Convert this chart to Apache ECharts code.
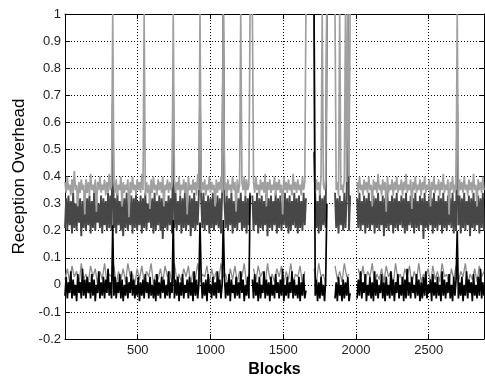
<!DOCTYPE html>
<html>
<head>
<meta charset="utf-8">
<style>
  html, body { margin: 0; padding: 0; background: #fff; }
  #chart { width: 485px; height: 383px; }
</style>
<script src="https://cdn.jsdelivr.net/npm/echarts@6/dist/echarts.min.js"></script>
</head>
<body>
<div id="chart"></div>
<script>
// Block spacing of the sampled series (blocks per sample)
const FINE_STEP = 8;
const COARSE_STEP = 16;

// X tick labels and Y tick range
const xTicks = [500, 1000, 1500, 2000, 2500];
const xMax = 2880;
const yMin = -0.2, yMax = 1, yStep = 0.1;

// Upper trace (light gray), one value every FINE_STEP blocks; null = no data
const lightGray = [
  .38,.34,.40,.35,.37,.33,.39,.34,.42,.35,.37,.29,.38,.34,.39,.35,.37,.26,.39,.34,
  .38,.33,.41,.35,.37,.34,.39,.27,.38,.35,.40,.34,.37,.35,.39,.33,.38,.34,.41,.35,
  .37,1,.38,.34,.39,.33,.37,.35,.40,.29,.38,.34,.37,.35,.39,.25,.38,.34,.40,.35,
  .37,.33,.39,.35,.38,.34,.41,.35,1,.33,.38,.34,.37,.28,.39,.34,.40,.35,.37,.33,
  .39,.35,.38,.34,.40,.29,.37,.35,.39,.34,.38,.35,.37,1,.39,.34,.38,.35,.40,.33,
  .37,.35,.39,.34,.38,.26,.40,.35,.37,.34,.39,.35,.38,.33,.41,.35,1,.34,.38,.35,
  .39,.33,.37,.35,.40,.34,.38,.35,.37,.29,.39,.34,.38,.35,.40,.34,1,.35,.38,.33,
  .39,.35,.37,.34,.40,.35,.38,.27,.39,.34,.37,1,.38,.35,.40,.33,.39,.35,.37,1,
  null,1,.38,.34,.40,.35,.37,.33,.39,.35,.38,.34,.41,.29,.38,.35,.39,.34,.37,.35,
  .40,.33,.38,.35,.39,.34,.37,.26,.40,.35,.38,.34,.39,.35,.37,.33,.41,.35,.38,.34,
  .39,.35,.37,.33,.40,.35,.38,1,null,null,null,null,null,null,1,.34,.39,.35,.38,.33,
  .40,1,.37,.35,.39,1,null,null,null,null,null,null,1,.35,.38,.33,1,.35,.37,.34,
  .39,1,.38,1,.40,1,null,null,null,null,null,.38,.34,.40,.35,.37,.33,.39,.35,.38,
  .34,.40,.35,.37,.29,.39,.35,.38,.34,.41,.35,.37,.33,.39,.35,.38,.27,.40,.34,.37,
  .35,.39,.33,.38,.35,.40,.34,.37,.35,.39,.33,.38,.35,.41,.34,.37,.35,.39,.28,.38,
  .35,.40,.34,.37,.35,.39,.33,.38,.35,.40,.34,.37,.35,.39,.29,.38,.35,.40,.34,.37,
  .35,.39,.33,.38,.35,.41,.34,.37,.35,.39,.26,.38,.35,.40,.34,.37,.35,1,.33,.39,
  .35,.38,.34,.40,.35,.37,.33,.39,.35,.38,.34,.41,.35,.37,.29,.39,.35,.38,.34,.40,
  .35
];

// Middle trace (dark gray)
const darkGray = [
  .21,.32,.20,.33,.22,.31,.19,.34,.21,.30,.20,.33,.23,.32,.18,.31,.21,.34,.20,.32,
  .22,.33,.19,.31,.21,.34,.20,.32,.23,.30,.21,.33,.19,.32,.22,.31,.20,.34,.21,.33,
  .20,.67,.21,.32,.19,.34,.22,.31,.20,.33,.18,.32,.21,.34,.20,.31,.22,.33,.19,.32,
  .21,.34,.20,.31,.22,.33,.19,.32,.21,.34,.20,.30,.23,.33,.21,.32,.19,.34,.20,.31,
  .22,.33,.20,.32,.17,.34,.21,.31,.20,.33,.22,.32,.19,.68,.21,.34,.20,.31,.22,.33,
  .19,.32,.21,.34,.20,.31,.22,.33,.18,.32,.21,.34,.20,.31,.22,.33,.67,.32,.21,.34,
  .20,.31,.22,.33,.19,.32,.21,.34,.20,.30,.22,.33,.21,.32,.19,.34,1,.31,.21,.33,
  .20,.32,.22,.34,.19,.31,.21,.33,.20,.32,.23,.34,.20,.31,.21,.33,.19,.32,.22,.34,
  null,.33,.20,.31,.22,.34,.19,.32,.21,.33,.20,.31,.22,.34,.18,.32,.21,.33,.20,.31,
  .22,.34,.19,.32,.21,.33,.20,.31,.22,.34,.21,.32,.19,.33,.20,.31,.22,.34,.21,.32,
  .19,.33,.21,.31,.20,.34,.22,.32,null,null,null,null,null,null,.49,.33,.21,.31,.19,.34,
  .20,.32,.22,.33,.21,1,null,null,null,null,null,null,.34,.21,.32,.19,.33,.22,.31,.20,
  .34,.21,.32,1,.20,.33,null,null,null,null,null,.32,.21,.34,.20,.31,.22,.33,.19,.32,
  .21,.34,.20,.31,.22,.33,.19,.32,.21,.34,.20,.31,.22,.33,.18,.32,.21,.34,.20,.31,
  .22,.33,.19,.32,.21,.34,.20,.31,.22,.33,.21,.32,.19,.34,.20,.31,.22,.33,.21,.32,
  .19,.34,.21,.31,.20,.33,.22,.32,.17,.34,.21,.31,.20,.33,.22,.32,.19,.34,.21,.31,
  .20,.33,.22,.32,.19,.34,.21,.31,.20,.33,.22,.32,.21,.34,.19,.31,.20,.67,.22,.33,
  .19,.32,.21,.34,.20,.31,.22,.33,.18,.32,.21,.34,.20,.31,.22,.33,.19,.32,.21,.34,
  .20
];

// Lower trace (black)
const blackTrace = [
  -.04,.03,-.05,.01,-.03,.05,-.05,.02,-.04,.00,-.06,.04,-.03,.01,-.05,.06,-.04,.02,-.05,.03,
  -.03,.01,-.05,.04,-.04,.02,-.06,.00,-.03,.05,-.05,.01,-.04,.03,-.05,.02,-.03,.06,-.04,.01,
  -.05,.22,-.04,.03,-.05,.01,-.03,.04,-.05,.02,-.06,.00,-.04,.03,-.05,.01,-.03,.05,-.04,.02,
  -.05,.00,-.04,.03,-.06,.01,-.04,.02,-.05,.04,-.03,.01,-.05,.03,-.04,.00,-.05,.02,-.06,.04,
  -.04,.01,-.05,.03,-.03,.02,-.05,.00,-.04,.05,-.05,.01,-.03,.24,-.05,.02,-.04,.03,-.06,.01,
  -.04,.04,-.05,.00,-.03,.02,-.05,.03,-.04,.01,-.06,.05,-.04,.02,-.05,.00,.23,.03,-.05,.01,
  -.04,.02,-.06,.04,-.03,.00,-.05,.03,-.04,.01,-.05,.05,-.03,.02,-.05,.00,.24,.03,-.05,.01,
  -.04,.04,-.06,.02,-.03,.00,-.05,.03,-.04,.01,-.05,.05,-.03,.02,-.06,.00,-.04,.03,-.05,.33,
  null,.02,-.05,.04,-.04,.01,-.06,.03,-.05,.00,-.03,.05,-.05,.02,-.04,.01,-.06,.03,-.04,.00,
  -.05,.04,-.03,.01,-.05,.02,-.04,.06,-.06,.00,-.04,.03,-.05,.01,-.03,.05,-.05,.02,-.04,.00,
  -.05,.03,-.06,.01,-.04,.04,-.05,-.02,null,null,null,null,null,null,1,-.04,.02,-.06,.01,-.05,
  .03,-.04,.00,-.06,.02,.30,null,null,null,null,null,null,-.05,.01,-.06,.03,-.04,.00,-.06,.02,
  -.05,.01,-.04,.03,-.06,-.03,null,null,null,null,null,-.05,.02,-.04,.05,-.05,.01,-.03,.04,-.06,
  .00,-.04,.03,-.05,.01,-.06,.05,-.04,.02,-.05,.00,-.03,.04,-.05,.01,-.06,.03,-.04,.00,-.05,
  .05,-.04,.02,-.06,.01,-.03,.04,-.05,.00,-.04,.03,-.06,.02,-.05,.06,-.04,.01,-.05,.03,-.03,
  .00,-.05,.04,-.04,.02,-.06,.01,-.05,.03,-.04,.05,-.05,.00,-.03,.02,-.06,.04,-.04,.01,-.05,
  .03,-.04,.00,-.06,.05,-.04,.02,-.05,.01,-.03,.04,-.05,.00,-.06,.03,-.04,.02,.20,-.05,.01,
  -.04,.03,-.06,.00,-.04,.05,-.05,.02,-.03,.01,-.06,.04,-.04,.00,-.05,.03,-.04,.06,-.05,.01,
  -.04
];

// Gray trace sitting under the black one, one value every COARSE_STEP blocks
const lowGray = [
  .02,.06,.01,.07,.03,.05,.00,.08,.02,.04,.01,.07,.03,.06,.00,.05,.02,.08,.01,.04,
  .03,.07,.00,.05,.02,.06,.01,.08,.03,.04,.00,.06,.02,.07,.01,.05,.03,.08,.00,.04,
  .02,.06,.01,.07,.03,.05,.00,.08,.02,.04,.01,.06,.03,.07,.00,.05,.02,.08,.01,.04,
  .03,.07,.00,.06,.02,.05,.01,.08,.03,.04,.00,.06,.02,.07,.01,.05,.03,.08,.00,.04,
  null,.06,.01,.07,.03,.05,.00,.08,.02,.04,.01,.06,.03,.07,.00,.05,.02,.08,.01,.04,
  .03,.07,.00,.05,null,null,null,.06,.01,.08,.03,.04,.00,null,null,null,.07,.02,.05,.01,
  .08,.03,.04,null,null,null,.06,.02,.07,.01,.05,.03,.08,.00,.04,.02,.06,.01,.07,.03,
  .05,.00,.08,.02,.04,.01,.06,.03,.07,.00,.05,.02,.08,.01,.04,.03,.06,.00,.07,.02,
  .05,.01,.08,.03,.04,.00,.06,.02,.07,.01,.05,.03,.08,.00,.04,.02,.06,.01,.07,.03,
  .05
];

function toPoints(values, step) {
  return values.map((v, i) => [i * step, v === null ? '-' : v]);
}

const FONT = '"Liberation Sans", Arial, Helvetica, sans-serif';
const gridLine = { show: true, lineStyle: { color: '#000', width: 1, type: [1, 2] } };
const frameLine = { show: true, onZero: false, lineStyle: { color: '#000', width: 1 } };
const innerTick = { show: true, inside: true, length: 5, lineStyle: { color: '#000' } };

function lineSeries(name, values, step, color, width) {
  return {
    name, type: 'line', data: toPoints(values, step),
    showSymbol: false, symbol: 'none', silent: true,
    lineStyle: { color, width, join: 'bevel' }, connectNulls: false,
    xAxisIndex: 0, yAxisIndex: 0
  };
}

const chart = echarts.init(document.getElementById('chart'), null, { renderer: 'canvas' });
chart.setOption({
  backgroundColor: '#fff',
  animation: false,
  grid: { left: 65, right: 1, top: 14, bottom: 39, containLabel: false },
  xAxis: [
    {
      type: 'value', position: 'bottom', min: 0, max: xMax, interval: 500,
      axisLine: frameLine, axisTick: innerTick, splitLine: gridLine,
      axisLabel: {
        color: '#222', fontSize: 13, fontFamily: FONT, margin: 5,
        showMinLabel: false, showMaxLabel: false,
        formatter: v => (xTicks.includes(v) ? String(v) : '')
      },
      name: 'Blocks', nameLocation: 'middle', nameGap: 22,
      nameTextStyle: { color: '#000', fontSize: 16, fontWeight: 'bold', fontFamily: FONT }
    },
    {
      type: 'value', position: 'top', min: 0, max: xMax, interval: 500,
      axisLine: frameLine, axisTick: innerTick, axisLabel: { show: false }, splitLine: { show: false }
    }
  ],
  yAxis: [
    {
      type: 'value', position: 'left', min: yMin, max: yMax, interval: yStep,
      axisLine: frameLine, axisTick: innerTick, splitLine: gridLine,
      axisLabel: {
        color: '#222', fontSize: 13, fontFamily: FONT, margin: 4,
        formatter: v => (Math.abs(v) < 1e-9 ? '0' : String(Math.round(v * 10) / 10))
      },
      name: 'Reception Overhead', nameLocation: 'middle', nameGap: 28, nameRotate: 90,
      nameTextStyle: { color: '#000', fontSize: 17, fontFamily: FONT }
    },
    {
      type: 'value', position: 'right', min: yMin, max: yMax, interval: yStep,
      axisLine: frameLine, axisTick: innerTick, axisLabel: { show: false }, splitLine: { show: false }
    }
  ],
  series: [
    lineSeries('dark', darkGray, FINE_STEP, '#474747', 1.9),
    lineSeries('light', lightGray, FINE_STEP, '#a0a0a0', 1.7),
    lineSeries('lowGray', lowGray, COARSE_STEP, '#8a8a8a', 1.3),
    lineSeries('black', blackTrace, FINE_STEP, '#000000', 1.7)
  ]
});
</script>
</body>
</html>
